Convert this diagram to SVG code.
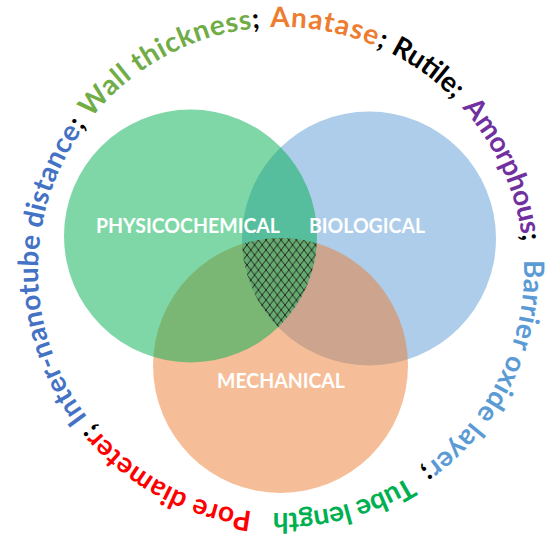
<svg xmlns="http://www.w3.org/2000/svg" width="553" height="545" viewBox="0 0 553 545">
  <style>
    .venn { opacity: 0.5; }
    .lbl { font-family: Lato, "Liberation Sans", sans-serif; font-weight: bold; font-size: 20px; fill: #FFFFFF; }
    .ring { font-family: Lato, "Liberation Sans", sans-serif; font-weight: bold; font-size: 28px; }
    .sep { fill: #000000; }
  </style>
  <defs>
    <pattern id="hatch" patternUnits="userSpaceOnUse" width="7.6" height="10">
      <path d="M0,0 L7.6,10 M7.6,0 L0,10 M-7.6,0 L0,10 M7.6,0 L15.2,10" stroke="#1a1a1a" stroke-width="0.9" fill="none"/>
    </pattern>
    <clipPath id="clipGreen"><circle cx="190.5" cy="236" r="126.5"/></clipPath>
    <clipPath id="clipBlue"><circle cx="369" cy="238.5" r="127"/></clipPath>
    <clipPath id="clipOrange"><circle cx="280.5" cy="365.5" r="127.5"/></clipPath>
    <path id="ringPath" d="M268.28,512.67 A243,243 0 1,1 293.72,27.33 A243,243 0 1,1 268.28,512.67"/>
  </defs>

  <rect width="553" height="545" fill="#FFFFFF"/>

  <g id="node-biological">
    <circle class="venn" cx="369" cy="238.5" r="127" fill="#5B9BD5"/>
  </g>
  <g id="node-mechanical">
    <circle class="venn" cx="280.5" cy="365.5" r="127.5" fill="#ED7D31"/>
  </g>
  <g id="node-physicochemical">
    <circle class="venn" cx="190.5" cy="236" r="126.5" fill="#00B050"/>
  </g>

  <g id="triple-overlap" clip-path="url(#clipGreen)">
    <g clip-path="url(#clipBlue)">
      <g clip-path="url(#clipOrange)">
        <rect x="200" y="200" width="160" height="160" fill="url(#hatch)"/>
      </g>
    </g>
  </g>

  <g id="labels">
    <text id="label-physicochemical" class="lbl" x="96" y="233" textLength="184" lengthAdjust="spacingAndGlyphs">PHYSICOCHEMICAL</text>
    <text id="label-biological" class="lbl" x="309" y="233" textLength="116" lengthAdjust="spacingAndGlyphs">BIOLOGICAL</text>
    <text id="label-mechanical" class="lbl" x="217" y="388" textLength="128" lengthAdjust="spacingAndGlyphs">MECHANICAL</text>
  </g>

  <g id="ring-text" class="ring">
    <text fill="#FF0000"><textPath href="#ringPath" startOffset="16.1" textLength="186.8" lengthAdjust="spacing">Pore diameter<tspan class="sep">;</tspan></textPath></text>
    <text fill="#4472C4"><textPath href="#ringPath" startOffset="210.8" textLength="313.6" lengthAdjust="spacing">Inter-nanotube distance<tspan class="sep">;</tspan></textPath></text>
    <text fill="#70AD47"><textPath href="#ringPath" startOffset="532.7" textLength="197" lengthAdjust="spacing">Wall thickness<tspan class="sep">;</tspan></textPath></text>
    <text fill="#ED7D31"><textPath href="#ringPath" startOffset="739.6" textLength="116" lengthAdjust="spacing">Anatase<tspan class="sep">;</tspan></textPath></text>
    <text fill="#000000"><textPath href="#ringPath" startOffset="863.5" textLength="79.5" lengthAdjust="spacing">Rutile;</textPath></text>
    <text fill="#7030A0"><textPath href="#ringPath" startOffset="954.2" textLength="149.5" lengthAdjust="spacing">Amorphous<tspan class="sep">;</tspan></textPath></text>
    <text fill="#5B9BD5"><textPath href="#ringPath" startOffset="1121.8" textLength="244" lengthAdjust="spacing">Barrier oxide layer<tspan class="sep">;</tspan></textPath></text>
    <text fill="#00B050"><textPath href="#ringPath" startOffset="1379.6" textLength="142.1" lengthAdjust="spacing">Tube length</textPath></text>
  </g>
</svg>
